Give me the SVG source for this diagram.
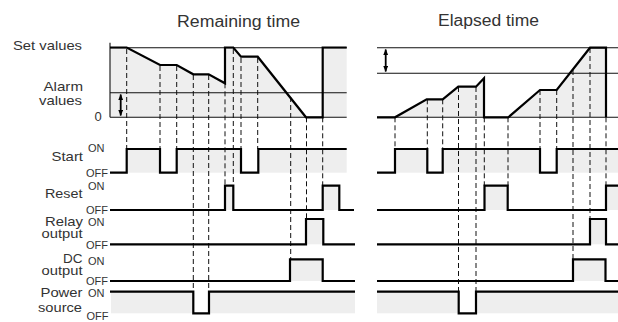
<svg xmlns="http://www.w3.org/2000/svg" width="618" height="322" viewBox="0 0 618 322">
<defs>
<marker id="ah" viewBox="0 0 10 8" refX="9" refY="4" markerWidth="6" markerHeight="5" orient="auto-start-reverse" markerUnits="userSpaceOnUse">
<path d="M0,0 L10,4 L0,8 Z" fill="#000"/>
</marker>
</defs>
<style>
.t{font-family:"Liberation Sans",Arial,sans-serif;fill:#333;}
.lbl{font-size:13px;}
.oo{font-size:11px;}
.ttl{font-size:16px;}
.thin{stroke:#111;stroke-width:1.1;fill:none;}
.thick{stroke:#000;stroke-width:2.2;fill:none;stroke-linejoin:miter;}
.dash{stroke:#111;stroke-width:1;stroke-dasharray:5,3;fill:none;}
.g{fill:#eeeeee;stroke:none;}
.arr{stroke:#000;stroke-width:1.8;fill:none;}
</style>
<rect width="618" height="322" fill="#fff"/>
<g id="titles">
<text class="t ttl" x="177" y="27" textLength="123" lengthAdjust="spacingAndGlyphs">Remaining time</text>
<text class="t ttl" x="438" y="26" textLength="101" lengthAdjust="spacingAndGlyphs">Elapsed time</text>
</g>
<g id="labels">
<text class="t lbl" x="13" y="50" textLength="69" lengthAdjust="spacingAndGlyphs">Set values</text>
<text class="t lbl" x="43.5" y="91" textLength="39.5" lengthAdjust="spacingAndGlyphs">Alarm</text>
<text class="t lbl" x="39" y="104.5" textLength="43" lengthAdjust="spacingAndGlyphs">values</text>
<text class="t lbl" x="94.5" y="121">0</text>
<text class="t lbl" x="51.5" y="160.7" textLength="31.5" lengthAdjust="spacingAndGlyphs">Start</text>
<text class="t lbl" x="45" y="198.3" textLength="37.5" lengthAdjust="spacingAndGlyphs">Reset</text>
<text class="t lbl" x="45" y="225.5" textLength="38" lengthAdjust="spacingAndGlyphs">Relay</text>
<text class="t lbl" x="41.5" y="237.5" textLength="41" lengthAdjust="spacingAndGlyphs">output</text>
<text class="t lbl" x="63" y="262.7" textLength="19.5" lengthAdjust="spacingAndGlyphs">DC</text>
<text class="t lbl" x="41.5" y="275" textLength="41" lengthAdjust="spacingAndGlyphs">output</text>
<text class="t lbl" x="40.5" y="296.5" textLength="42" lengthAdjust="spacingAndGlyphs">Power</text>
<text class="t lbl" x="38" y="311.7" textLength="44" lengthAdjust="spacingAndGlyphs">source</text>
<text class="t oo" x="88" y="152">ON</text>
<text class="t oo" x="86" y="176.5">OFF</text>
<text class="t oo" x="88" y="190">ON</text>
<text class="t oo" x="86" y="213.5">OFF</text>
<text class="t oo" x="88" y="225.5">ON</text>
<text class="t oo" x="86" y="248.5">OFF</text>
<text class="t oo" x="88" y="264.5">ON</text>
<text class="t oo" x="86" y="285">OFF</text>
<text class="t oo" x="88" y="296.5">ON</text>
<text class="t oo" x="86.5" y="319.5">OFF</text>
</g>
<g id="fills">
<path class="g" d="M110,47.5 H126.7 L160,65 H176.7 L193.3,74.3 H208.7 L225,83.3 V47.5 H233.3 L241,56.7 H257.7 L306,117.3 H322.7 V47.5 H346.7 V117.3 H110 Z"/>
<path class="g" d="M395,117.3 L426.7,99.3 H442.7 L458.3,86.7 H476 L484,78.3 V117.3 Z M508.3,117.3 L540,90 H556.7 L590,47.7 H606 V117.3 Z"/>
<rect class="g" x="126.7" y="149" width="33.3" height="23.7"/>
<rect class="g" x="176.7" y="149" width="64.3" height="23.7"/>
<rect class="g" x="258.3" y="149" width="88.4" height="23.7"/>
<rect class="g" x="225" y="185.7" width="8.3" height="24.3"/>
<rect class="g" x="322.7" y="185.7" width="16.6" height="24.3"/>
<rect class="g" x="306" y="219" width="17.3" height="25.3"/>
<rect class="g" x="290" y="259.3" width="32.7" height="21.7"/>
<rect class="g" x="111" y="291.7" width="82.3" height="21.6"/>
<rect class="g" x="209" y="291.7" width="146" height="21.6"/>
<rect class="g" x="395" y="149" width="32.3" height="23.7"/>
<rect class="g" x="442.7" y="149" width="97.3" height="23.7"/>
<rect class="g" x="556.7" y="149" width="61.3" height="23.7"/>
<rect class="g" x="484.5" y="185.7" width="23.2" height="24.3"/>
<rect class="g" x="606" y="185.7" width="12" height="24.3"/>
<rect class="g" x="590" y="219" width="16" height="25.3"/>
<rect class="g" x="573" y="259.3" width="32.5" height="21.7"/>
<rect class="g" x="377" y="291.7" width="81.7" height="21.6"/>
<rect class="g" x="476" y="291.7" width="142" height="21.6"/>
</g>
<g id="connectors">
<path class="thin" d="M110,42.7 V117.3 M110,47.7 H346.7 M110,92.7 H346.7 M110,117.3 H346.7"/>
<path class="thin" d="M377,47.7 H618 M377,73.3 H618 M377,117.3 H618"/>
<path class="arr" d="M120.7,94.5 V115.5" marker-start="url(#ah)" marker-end="url(#ah)"/>
<path class="arr" d="M385.7,49.5 V71.5" marker-start="url(#ah)" marker-end="url(#ah)"/>
<path class="dash" d="M126.7,49 V149 M160,66 V149 M176.7,66 V149 M193.3,75 V291.7 M208.7,75 V291.7 M225,83.3 V185.7 M233.3,49 V185.7 M241,58 V149 M257.7,58 V149 M290.7,97 V259.3 M306.5,117.3 V219 M322.7,117.3 V185.7"/>
<path class="dash" d="M395,117.3 V149 M427.3,99.3 V149 M442.7,99.3 V149 M458.5,87 V291.7 M476,87 V291.7 M484.3,117.3 V185.7 M508,117.3 V185.7 M540,90 V149 M556.7,90 V149 M573,70 V259.3 M590,48 V219 M606,117.3 V185.7"/>
<path class="thick" d="M110,47.5 H126.7 L160,65 H176.7 L193.3,74.3 H208.7 L225,83.3 V47.5 H233.3 L241,56.7 H257.7 L306,117.3 H322.7 V47.5 H346.7"/>
<path class="thick" d="M377,117.3 H395 L426.7,99.3 H442.7 L458.3,86.7 H476 L484,78.3 V117.3 H508.3 L540,90 H556.7 L590,47.7 H606 V117.3"/>
<path class="thick" d="M110,172.7 H126.7 V149 H160 V172.7 H176.7 V149 H241 V172.7 H258.3 V149 H346.7"/>
<path class="thick" d="M110,210 H225 V185.7 H233.3 V210 H322.7 V185.7 H339.3 V210 H354"/>
<path class="thick" d="M110,244.3 H306 V219 H323.3 V244.3 H355"/>
<path class="thick" d="M110,281 H290 V259.3 H322.7 V281 H355"/>
<path class="thick" d="M110,291.7 H193.3 V313.3 H209 V291.7 H355"/>
<path class="thick" d="M377,172.7 H395 V149 H427.3 V172.7 H442.7 V149 H540 V172.7 H556.7 V149 H618"/>
<path class="thick" d="M377,210 H484.5 V185.7 H507.7 V210 H606 V185.7 H618"/>
<path class="thick" d="M377,244.3 H590 V219 H606 V244.3 H618"/>
<path class="thick" d="M377,281 H573 V259.3 H605.5 V281 H618"/>
<path class="thick" d="M377,291.7 H458.7 V313.3 H476 V291.7 H618"/>
</g>
</svg>
